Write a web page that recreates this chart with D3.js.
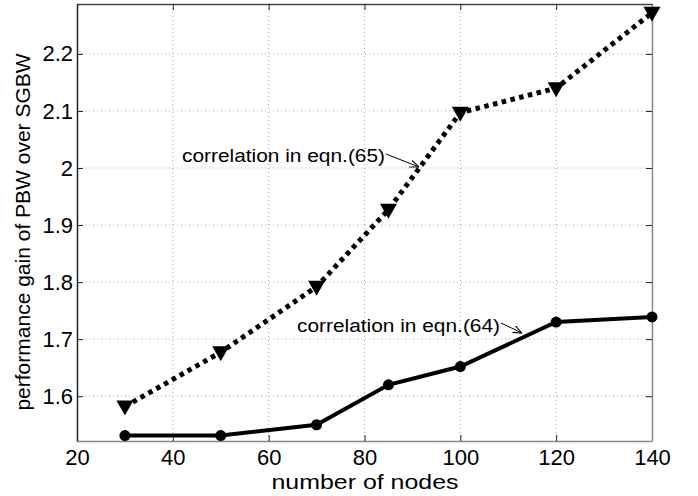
<!DOCTYPE html>
<html>
<head>
<meta charset="utf-8">
<script src="https://cdn.jsdelivr.net/npm/d3@7"></script>
<style>
  body { margin: 0; background: #fff; }
  text { font-family: "Liberation Sans", Arial, sans-serif; }
</style>
</head>
<body>
<svg id="chart" width="698" height="496"></svg>
<script>
// data
var nodes = [30, 50, 70, 85, 100, 120, 140];
var gain65 = [1.582, 1.677, 1.792, 1.927, 2.097, 2.140, 2.272];
var gain64 = [1.531, 1.531, 1.550, 1.620, 1.652, 1.730, 1.739];
var xTicks = [20, 40, 60, 80, 100, 120, 140];
var yTicks = [1.6, 1.7, 1.8, 1.9, 2.0, 2.1, 2.2];
var label65 = "correlation in eqn.(65)";
var label64 = "correlation in eqn.(64)";

var margin = { top: 4, right: 46, bottom: 55, left: 77 };
var width = 698 - margin.left - margin.right;
var height = 496 - margin.top - margin.bottom;

var svg = d3.select("#chart");
var g = svg.append("g").attr("transform", "translate(" + margin.left + "," + margin.top + ")");

var x = d3.scaleLinear().domain([20, 140]).range([0, width]);
var y = d3.scaleLinear().domain([1.5215, 2.2875]).range([height, 0]);

// grid
g.selectAll(".vgrid").data(xTicks.slice(1, -1)).enter().append("line")
  .attr("x1", function(d) { return x(d); }).attr("x2", function(d) { return x(d); })
  .attr("y1", 0).attr("y2", height)
  .attr("stroke", "#aaa").attr("stroke-width", 1).attr("stroke-dasharray", "1,3");
g.selectAll(".hgrid").data(yTicks).enter().append("line")
  .attr("x1", 0).attr("x2", width)
  .attr("y1", function(d) { return y(d); }).attr("y2", function(d) { return y(d); })
  .attr("stroke", "#aaa").attr("stroke-width", 1).attr("stroke-dasharray", "1,3");

// axes (ticks inward, MATLAB box)
var xAxis = g.append("g").attr("transform", "translate(0," + height + ")")
  .call(d3.axisBottom(x).tickValues(xTicks).tickSizeInner(-6).tickSizeOuter(0).tickPadding(8));
var yAxis = g.append("g")
  .call(d3.axisLeft(y).tickValues(yTicks).tickFormat(function(d) { return d === 2 ? "2" : d3.format(".1f")(d); })
    .tickSizeInner(-6).tickSizeOuter(0).tickPadding(4));
var xTop = g.append("g")
  .call(d3.axisTop(x).tickValues(xTicks).tickSizeInner(-6).tickSizeOuter(0).tickFormat(""));
var yRight = g.append("g").attr("transform", "translate(" + width + ",0)")
  .call(d3.axisRight(y).tickValues(yTicks).tickSizeInner(-6).tickSizeOuter(0).tickFormat(""));

[xAxis, yAxis, xTop, yRight].forEach(function(a) {
  a.selectAll("text").style("font-size", "22px").attr("fill", "#000");
  a.selectAll("line").attr("stroke", "#222");
});
xAxis.select(".domain").attr("stroke", "#888").attr("stroke-width", 1.5);
yRight.select(".domain").attr("stroke", "#888").attr("stroke-width", 1.5);
yAxis.select(".domain").attr("stroke", "#222").attr("stroke-width", 1.5);
xTop.select(".domain").attr("stroke", "#444").attr("stroke-width", 1.5);

// axis titles
g.append("text").attr("x", width / 2 - 93).attr("y", height + 48)
  .attr("textLength", 187).attr("lengthAdjust", "spacingAndGlyphs")
  .style("font-size", "21px").text("number of nodes");
svg.append("text")
  .attr("transform", "translate(30,232) rotate(-90)")
  .attr("text-anchor", "middle").style("font-size", "21px").text("performance gain of PBW over SGBW");

var line = d3.line()
  .x(function(d, i) { return x(nodes[i]); })
  .y(function(d) { return y(d); });

// eqn.(65) dotted with down triangles
g.append("path").datum(gain65).attr("d", line)
  .attr("fill", "none").attr("stroke", "#000").attr("stroke-width", 5)
  .attr("stroke-dasharray", "4.5,4.5");
g.selectAll(".tri").data(gain65).enter().append("path")
  .attr("transform", function(d, i) { return "translate(" + x(nodes[i]) + "," + y(d) + ")"; })
  .attr("d", "M-8.5,-6 L8.5,-6 L0,9 Z").attr("fill", "#000");

// eqn.(64) solid with circles
g.append("path").datum(gain64).attr("d", line)
  .attr("fill", "none").attr("stroke", "#000").attr("stroke-width", 4);
g.selectAll(".dot").data(gain64).enter().append("circle")
  .attr("cx", function(d, i) { return x(nodes[i]); })
  .attr("cy", function(d) { return y(d); })
  .attr("r", 5.5).attr("fill", "#000");

// annotations
svg.append("defs").append("marker").attr("id", "arr")
  .attr("viewBox", "0 0 10 10").attr("refX", 10).attr("refY", 5)
  .attr("markerWidth", 9).attr("markerHeight", 9).attr("orient", "auto")
  .append("path").attr("d", "M0,1 L10,5 L0,9").attr("fill", "none").attr("stroke", "#000").attr("stroke-width", 1.2);

svg.append("text").attr("x", 182).attr("y", 162)
  .attr("textLength", 203).attr("lengthAdjust", "spacingAndGlyphs")
  .style("font-size", "18px").text(label65);
svg.append("line").attr("x1", 386).attr("y1", 154).attr("x2", 419).attr("y2", 167)
  .attr("stroke", "#000").attr("stroke-width", 1).attr("marker-end", "url(#arr)");

svg.append("text").attr("x", 297).attr("y", 332)
  .attr("textLength", 203).attr("lengthAdjust", "spacingAndGlyphs")
  .style("font-size", "18px").text(label64);
svg.append("line").attr("x1", 501).attr("y1", 323).attr("x2", 522).attr("y2", 333)
  .attr("stroke", "#000").attr("stroke-width", 1).attr("marker-end", "url(#arr)");
</script>
</body>
</html>
